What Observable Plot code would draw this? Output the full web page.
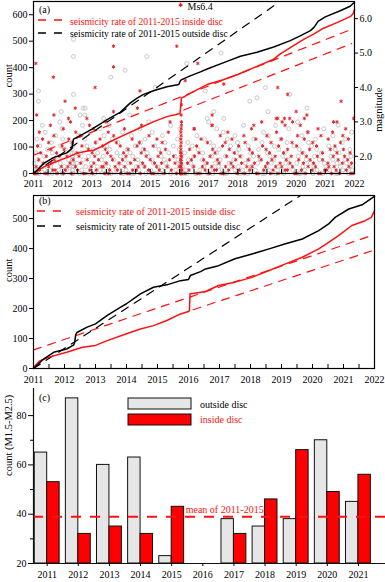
<!DOCTYPE html>
<html>
<head>
<meta charset="utf-8">
<script src="https://cdn.jsdelivr.net/npm/d3@7"></script>
<script src="https://cdn.jsdelivr.net/npm/@observablehq/plot@0.6"></script>
<style>
  body { margin: 0; background: #fff; }
  #chart { position: relative; width: 385px; height: 582px; overflow: hidden; background: #fff; }
  #chart svg { position: absolute; left: 0; }
</style>
</head>
<body>
<div id="chart"></div>
<script>
// ---------------- DATA ----------------
const yearTicks = [2011, 2012, 2013, 2014, 2015, 2016, 2017, 2018, 2019, 2020, 2021, 2022];
const halfYearTicks = [2011.5, 2012.5, 2013.5, 2014.5, 2015.5, 2016.5, 2017.5, 2018.5, 2019.5, 2020.5, 2021.5];
const countTicksA = [0, 100, 200, 300, 400, 500, 600];
const countTicksB = [0, 100, 200, 300, 400, 500];
const magTicks = [2, 3, 4, 5, 6];

// panel (a): cumulative counts [year, count]
const aOutsideCum = [[2011.00,0],[2011.17,18],[2011.34,37],[2011.68,60],[2012.14,78],[2012.32,95],[2012.34,112],[2012.37,130],[2012.71,150],[2013.00,168],[2013.28,187],[2013.51,203],[2013.75,218],[2013.97,231],[2014.31,266],[2014.55,285],[2014.77,299],[2015.11,313],[2015.57,328],[2015.98,336],[2016.02,348],[2016.06,354],[2016.37,369],[2016.72,384],[2016.95,395],[2017.52,419],[2018.09,443],[2018.66,458],[2019.23,478],[2019.80,502],[2020.14,520],[2020.49,540],[2020.62,553],[2020.75,575],[2021.00,592],[2021.57,618],[2021.85,632],[2022.00,647]];
const aInsideCum = [[2011.00,3],[2011.20,15],[2011.34,24],[2011.60,37],[2011.90,50],[2012.20,63],[2012.48,76],[2012.80,84],[2013.06,88],[2013.30,100],[2013.60,119],[2014.10,145],[2014.60,170],[2015.12,196],[2015.57,215],[2015.85,222],[2016.02,227],[2016.05,260],[2016.07,285],[2016.20,292],[2016.38,304],[2016.95,336],[2017.50,354],[2018.00,374],[2018.66,405],[2019.23,432],[2019.46,452],[2019.80,476],[2020.26,507],[2020.60,527],[2020.94,549],[2021.40,570],[2021.87,594],[2021.95,604],[2022.00,619]];
const aOutsideRate = [[2011.0,0],[2019.42,648]];
const aInsideRateHigh = [[2011.0,69],[2021.9,545]];
const aInsideRateLow = [[2016.15,240],[2021.9,491]];

// panel (a): magnitudes, rows of [magnitude, [years after 2011]]
const insideRows = [
  [1.5,[0.03,0.12,0.40,0.47,0.81,1.02,1.30,1.71,1.77,2.02,2.44,2.58,2.99,3.21,3.28,3.66,4.05,4.12,4.47,4.90,5.04,5.05,5.07,5.19,5.61,5.70,6.02,6.43,6.51,6.98,7.22,7.64,7.70,8.13,8.38,8.95,9.02,9.31,9.77,9.84,10.21,10.49,10.88,10.95]],
  [1.6,[0.21,0.66,0.74,1.09,1.51,1.93,2.15,2.61,2.87,3.40,3.52,3.94,4.31,4.72,5.04,5.06,5.08,5.33,5.88,6.20,6.27,6.69,7.05,7.41,7.89,8.21,8.62,8.70,9.18,9.55,9.98,10.05,10.37,10.72]],
  [1.7,[0.09,0.52,0.95,1.18,1.44,1.98,2.34,2.39,2.80,3.13,3.59,3.81,4.22,4.58,4.99,5.04,5.06,5.49,5.79,6.11,6.58,6.84,7.31,7.49,7.95,8.30,8.51,8.88,9.41,9.66,10.12,10.30,10.81]],
  [1.8,[0.33,0.60,1.25,1.62,2.07,2.49,2.93,3.33,3.74,4.15,4.39,4.85,5.05,5.07,5.28,5.95,6.36,6.77,7.13,7.57,8.02,8.45,8.79,9.25,9.60,10.09,10.58,10.90]],
  [1.9,[0.18,0.71,1.36,1.84,2.23,2.71,3.05,3.47,4.00,4.66,5.04,5.06,5.41,5.83,6.30,6.93,7.36,7.80,8.17,8.66,9.09,9.48,9.91,10.44,10.77]],
  [2.0,[0.44,0.90,1.15,1.56,2.10,2.65,3.17,3.86,4.27,4.80,5.05,5.08,5.52,6.05,6.62,7.08,7.72,8.28,8.83,9.35,9.73,10.27,10.66]],
  [2.1,[0.25,0.79,1.49,2.01,2.53,3.09,3.69,4.36,5.04,5.06,5.67,6.22,6.88,7.50,8.09,8.57,9.21,9.90,10.40,10.85]],
  [2.2,[0.60,1.05,1.88,2.46,3.24,3.80,4.52,5.05,5.35,6.14,6.71,7.40,7.97,8.71,9.46,10.17,10.62]],
  [2.3,[0.14,0.98,1.66,2.37,2.97,3.55,4.10,5.05,5.59,6.48,7.03,7.85,8.40,9.02,9.70,10.33]],
  [2.4,[0.52,1.33,2.12,2.84,3.63,4.41,5.06,5.96,6.57,7.25,8.14,8.86,9.57,10.52]],
  [2.5,[0.31,1.21,2.28,3.38,4.23,5.05,5.74,6.80,7.62,8.49,9.28,10.10,10.79]],
  [2.6,[0.70,1.60,2.75,3.96,5.06,6.40,7.21,8.00,9.05,9.85,10.60]],
  [2.7,[0.20,1.45,2.56,4.62,5.05,6.66,8.33,9.40,10.25]],
  [2.8,[1.02,2.05,3.12,5.06,5.50,7.47,9.75,10.70]],
  [2.9,[0.58,1.92,3.70,5.07,6.12,8.62,9.14]],
  [3.0,[1.27,2.48,4.68,5.07,7.82,8.88,10.28]]
];
const insideLarge = [[2011.08,4.7],[2011.11,3.2],[2011.68,4.3],[2011.70,3.2],[2012.08,3.6],[2012.20,3.1],[2012.43,3.4],[2012.83,3.1],[2013.11,4.0],[2013.74,5.2],[2013.74,4.6],[2013.74,3.3],[2014.56,3.4],[2014.65,3.9],[2015.91,5.2],[2016.06,3.2],[2016.07,3.5],[2016.20,4.2],[2016.51,2.8],[2016.63,4.7],[2017.12,3.2],[2017.12,2.9],[2017.52,4.1],[2018.55,2.9],[2019.32,3.1],[2019.37,4.0],[2019.37,3.1],[2019.52,3.0],[2019.60,3.1],[2019.71,3.8],[2019.78,3.1],[2020.00,3.3],[2020.28,3.1],[2020.37,3.2],[2021.40,3.0],[2021.54,3.6],[2021.97,3.1]];
const mainshock = [{t: 2016.04, m: 6.4, label: "Ms6.4"}];

const outsideRows = [
  [1.5,[0.06,0.19,0.52,0.64,0.99,1.32,1.34,1.36,1.58,1.90,2.10,2.52,2.66,3.07,3.36,3.44,3.85,4.19,4.33,4.70,5.13,5.25,5.55,5.97,6.14,6.55,6.62,7.08,7.33,7.85,7.92,8.30,8.58,9.10,9.15,9.58,9.91,10.35,10.42,10.80]],
  [1.6,[0.10,0.38,0.86,1.14,1.33,1.35,1.66,2.28,2.41,2.83,3.17,3.62,4.02,4.40,4.88,5.22,5.70,6.03,6.47,6.90,7.17,7.60,8.05,8.48,8.89,9.29,9.72,10.15,10.60,10.93]],
  [1.7,[0.27,0.59,1.05,1.33,1.37,1.79,2.19,2.57,3.00,3.53,3.79,4.26,4.60,5.10,5.47,5.84,6.34,6.79,7.02,7.46,7.99,8.36,8.78,9.23,9.61,10.04,10.51,10.85]],
  [1.8,[0.02,0.45,0.92,1.32,1.35,1.49,1.99,2.47,2.92,3.26,3.70,4.11,4.53,5.02,5.39,5.91,6.22,6.70,7.26,7.68,8.15,8.64,9.02,9.49,9.97,10.40,10.72]],
  [1.9,[0.15,0.71,1.20,1.34,1.70,2.33,2.76,3.12,3.58,4.07,4.48,4.95,5.31,5.78,6.40,6.86,7.38,7.77,8.22,8.71,9.35,9.80,10.26,10.67]],
  [2.0,[0.35,0.81,1.33,1.36,1.88,2.39,2.98,3.40,3.93,4.37,4.85,5.50,6.10,6.58,7.12,7.54,8.10,8.54,9.07,9.63,10.20,10.88]],
  [2.1,[0.08,0.64,1.28,1.34,1.62,2.20,2.86,3.31,3.89,4.64,5.18,5.80,6.27,6.95,7.44,8.02,8.62,9.24,9.86,10.47]],
  [2.2,[0.48,1.09,1.33,2.05,2.62,3.21,3.75,4.30,5.00,5.64,6.36,7.04,7.71,8.40,9.11,9.70,10.34,10.84]],
  [2.3,[0.22,0.93,1.35,1.83,2.52,3.49,4.16,4.79,5.44,6.18,6.75,7.36,8.25,8.93,9.53,10.12]],
  [2.4,[0.61,1.32,2.15,2.89,3.67,4.50,5.29,6.05,6.99,7.83,8.69,9.42,10.58]],
  [2.5,[0.12,1.00,1.76,2.71,3.82,4.94,5.86,6.64,7.55,8.48,9.66,10.70]],
  [2.6,[0.76,1.55,2.42,3.36,4.42,5.60,6.90,8.05,9.20,10.26]],
  [2.7,[0.40,1.93,3.05,4.07,6.50,7.88,9.40,10.90]],
  [2.8,[0.98,2.28,3.64,5.02,6.28,8.75,9.95]],
  [2.9,[0.30,1.68,2.60,4.70,7.20,8.30,10.44]],
  [3.0,[0.90,3.95,6.00,9.05]]
];
const outsideLarge = [[2011.17,3.9],[2011.17,3.6],[2011.95,3.3],[2012.37,5.4],[2012.37,4.9],[2012.37,3.8],[2012.60,3.2],[2012.70,3.4],[2012.76,3.2],[2012.77,3.4],[2013.40,3.1],[2013.65,4.3],[2014.14,4.5],[2014.30,3.2],[2014.88,4.9],[2015.17,4.0],[2016.25,4.7],[2016.89,3.9],[2016.95,3.1],[2017.18,3.3],[2017.43,5.0],[2017.52,3.1],[2018.41,3.6],[2018.66,3.7],[2018.95,4.0],[2019.03,3.3],[2019.78,3.8],[2020.37,3.4]];

// panel (b): cumulative counts [year, count]
const bOutsideCum = [[2011.00,0],[2011.15,14],[2011.30,30],[2011.65,54],[2012.07,65],[2012.30,79],[2012.33,88],[2012.36,112],[2012.40,120],[2012.73,138],[2013.00,149],[2013.38,177],[2013.80,204],[2014.00,216],[2014.45,249],[2014.87,271],[2015.30,279],[2015.74,293],[2016.00,297],[2016.06,310],[2016.39,323],[2016.55,332],[2016.97,343],[2017.50,366],[2018.05,382],[2018.60,399],[2019.13,416],[2019.67,432],[2020.20,460],[2020.52,482],[2020.73,504],[2021.17,532],[2021.60,546],[2022.00,574]];
const bInsideCum = [[2011.00,4],[2011.20,25],[2011.50,38],[2012.07,54],[2012.58,71],[2013.00,77],[2013.38,93],[2014.00,116],[2014.45,132],[2014.87,143],[2015.30,160],[2015.74,182],[2016.00,190],[2016.03,193],[2016.05,249],[2016.20,251],[2016.55,257],[2016.97,277],[2017.50,288],[2018.05,304],[2018.60,327],[2019.13,349],[2019.67,371],[2020.20,399],[2020.52,421],[2020.84,443],[2021.27,477],[2021.70,493],[2021.90,504],[2022.00,527]];
const bOutsideRate = [[2011.0,0],[2019.61,577]];
const bInsideRateHigh = [[2011.0,62],[2021.9,443]];
const bInsideRateLow = [[2016.15,196],[2021.9,392]];

// panel (c): yearly counts M1.5-M2.5
const barYears = [2011, 2012, 2013, 2014, 2015, 2017, 2018, 2019, 2020, 2021];
const outsideCounts = [65, 87, 60, 63, 23, 38, 35, 38, 70, 45];
const insideCounts = [53, 32, 35, 32, 43, 32, 46, 66, 49, 56];
const barTickYears = [2011, 2012, 2013, 2014, 2015, 2016, 2017, 2018, 2019, 2020, 2021];
const meanInside = [39];

// ---------------- BUILD ----------------
const FONT = '"Liberation Serif", "Times New Roman", serif';
const RED = "#ff1010";
const W = 385;
const chart = document.getElementById("chart");

const toPts = (rows) => rows.flatMap(([m, ts]) => ts.map(t => ({t: 2011 + t, m})));
const insidePts = toPts(insideRows).concat(insideLarge.map(([t, m]) => ({t, m})));
const outsidePts = toPts(outsideRows).concat(outsideLarge.map(([t, m]) => ({t, m})));
const xy = {x: d => d[0], y: d => d[1]};

function place(svg, top) {
  svg.style.top = top + "px";
  chart.appendChild(svg);
  return svg;
}
function legendLine(svg, x1, x2, y, color) {
  d3.select(svg).append("line").attr("x1", x1).attr("x2", x2).attr("y1", y).attr("y2", y)
    .attr("stroke", color).attr("stroke-width", 1.3).attr("stroke-dasharray", "8,8");
}
function label(svg, x, y, str, color, size) {
  d3.select(svg).append("text").attr("x", x).attr("y", y).attr("fill", color)
    .attr("text-anchor", "start")
    .attr("font-size", size).attr("font-family", FONT).attr("dominant-baseline", "central").text(str);
}
function legendBox(svg, x, y, w, h, fill) {
  d3.select(svg).append("rect").attr("x", x).attr("y", y).attr("width", w).attr("height", h)
    .attr("fill", fill).attr("stroke", "#111").attr("stroke-width", 1);
}
const baseStyle = {fontFamily: FONT, fontSize: "10px", background: "transparent", overflow: "visible"};

// ----- panel (a): scatter layer (magnitude, right axis)
const aDims = {width: W, height: 190, marginLeft: 33, marginRight: 31, marginTop: 1, marginBottom: 17};
const aScatter = Plot.plot({
  ...aDims, style: baseStyle,
  x: {domain: [2011, 2022], axis: null},
  y: {domain: [1.5, 6.5]},
  marks: [
    Plot.axisY({anchor: "right", ticks: magTicks, tickFormat: d3.format(".1f"), tickSize: 3, tickPadding: 2, label: null}),
    Plot.dot(outsidePts, {x: "t", y: "m", r: 2, stroke: "#c2c2c2", strokeWidth: 0.9}),
    Plot.dot(insidePts, {x: "t", y: "m", r: 1.7, symbol: "asterisk", stroke: "#e3262c", strokeWidth: 1}),
    Plot.dot(mainshock, {x: "t", y: "m", r: 2, symbol: "asterisk", stroke: "#e3262c", strokeWidth: 1.1}),
    Plot.text(mainshock, {x: "t", y: "m", text: "label", dx: 7, dy: 2, textAnchor: "start", fill: "black", fontSize: 10}),
    Plot.text(["magnitude"], {text: d => d, frameAnchor: "right", dx: 24, rotate: -90, fill: "black", fontSize: 10.5})
  ]
});
place(aScatter, 0);

// ----- panel (a): lines layer (count, left axis)
const aLines = Plot.plot({
  ...aDims, style: baseStyle,
  x: {domain: [2011, 2022]},
  y: {domain: [0, 650]},
  marks: [
    Plot.line(aInsideRateHigh, {...xy, stroke: RED, strokeWidth: 1.2, strokeDasharray: "8,7"}),
    Plot.line(aInsideRateLow, {...xy, stroke: RED, strokeWidth: 1.2, strokeDasharray: "8,7"}),
    Plot.line(aOutsideRate, {...xy, stroke: "black", strokeWidth: 1.2, strokeDasharray: "8,7"}),
    Plot.line(aInsideCum, {...xy, stroke: RED, strokeWidth: 1.5}),
    Plot.line(aOutsideCum, {...xy, stroke: "black", strokeWidth: 1.5}),
    Plot.frame({stroke: "black", strokeWidth: 1.2}),
    Plot.axisY({ticks: countTicksA, tickSize: 4, tickPadding: 2, label: null}),
    Plot.axisX({ticks: halfYearTicks.concat(yearTicks), tickSize: -4, tickFormat: () => "", label: null}),
    Plot.axisX({ticks: yearTicks, tickSize: 0, tickPadding: 6, tickFormat: d => String(d), label: null}),
    Plot.text(["count"], {text: d => d, frameAnchor: "left", dx: -25, rotate: -90, fill: "black", fontSize: 10.5})
  ]
});
place(aLines, 0);
label(aLines, 39, 9, "(a)", "black", 10);
legendLine(aLines, 38, 62, 20, RED);
label(aLines, 70, 21, "seismicity rate of 2011-2015 inside disc", RED, 9.6);
legendLine(aLines, 38, 62, 33, "black");
label(aLines, 70, 33.5, "seismicity rate of 2011-2015 outside disc", "black", 9.6);

// ----- panel (b)
const bPlot = Plot.plot({
  width: W, height: 196, marginLeft: 33, marginRight: 11, marginTop: 5, marginBottom: 18,
  style: baseStyle,
  x: {domain: [2011, 2022]},
  y: {domain: [0, 577]},
  marks: [
    Plot.line(bInsideRateHigh, {...xy, stroke: RED, strokeWidth: 1.2, strokeDasharray: "8,7"}),
    Plot.line(bInsideRateLow, {...xy, stroke: RED, strokeWidth: 1.2, strokeDasharray: "8,7"}),
    Plot.line(bOutsideRate, {...xy, stroke: "black", strokeWidth: 1.2, strokeDasharray: "8,7"}),
    Plot.line(bInsideCum, {...xy, stroke: RED, strokeWidth: 1.5}),
    Plot.line(bOutsideCum, {...xy, stroke: "black", strokeWidth: 1.5}),
    Plot.frame({stroke: "black", strokeWidth: 1.2}),
    Plot.axisY({ticks: countTicksB, tickSize: 4, tickPadding: 2, label: null}),
    Plot.axisX({ticks: halfYearTicks.concat(yearTicks), tickSize: -4, tickFormat: () => "", label: null}),
    Plot.axisX({ticks: yearTicks, tickSize: 0, tickPadding: 7, tickFormat: d => String(d), label: null}),
    Plot.text(["count"], {text: d => d, frameAnchor: "left", dx: -25, rotate: -90, fill: "black", fontSize: 10.5})
  ]
});
place(bPlot, 190);
label(bPlot, 39, 10.5, "(b)", "black", 10);
legendLine(bPlot, 37, 66, 21, RED);
label(bPlot, 76, 21, "seismicity rate of 2011-2015 inside disc", RED, 10);
legendLine(bPlot, 37, 66, 36, "black");
label(bPlot, 76, 36, "seismicity rate of 2011-2015 outside disc", "black", 10);

// ----- panel (c)
const bars = barYears.map((year, i) => ({year, outside: outsideCounts[i], inside: insideCounts[i]}));
const cX = [2010.56, 2021.87];
const cPlot = Plot.plot({
  width: W, height: 196, marginLeft: 33, marginRight: 0, marginTop: 2, marginBottom: 19,
  style: baseStyle,
  x: {domain: cX},
  y: {domain: [20, 91]},
  marks: [
    Plot.rectY(bars, {x1: d => d.year - 0.4, x2: d => d.year, y1: 20, y2: "outside", fill: "#e6e6e6", stroke: "#111", strokeWidth: 1}),
    Plot.rectY(bars, {x1: d => d.year, x2: d => d.year + 0.4, y1: 20, y2: "inside", fill: "#ff0000", stroke: "#111", strokeWidth: 1}),
    Plot.ruleY(meanInside, {stroke: RED, strokeWidth: 2, strokeDasharray: "10,9"}),
    Plot.text(["mean of 2011-2015"], {text: d => d, x: 2015.45, y: meanInside[0], dy: -7, textAnchor: "start", fill: RED, fontSize: 10}),
    Plot.ruleY([20], {stroke: "#111", strokeWidth: 1.2}),
    Plot.ruleX([cX[0]], {stroke: "#111", strokeWidth: 1.2}),
    Plot.axisY({ticks: [20, 40, 60, 80], tickSize: 5, tickPadding: 2, label: null}),
    Plot.axisY({ticks: [30, 50, 70], tickSize: 3, tickFormat: () => "", label: null}),
    Plot.axisX({ticks: barTickYears, tickSize: 3, tickPadding: 4, tickFormat: d => String(d), label: null}),
    Plot.text(["count (M1.5-M2.5)"], {text: d => d, frameAnchor: "left", dx: -25, rotate: -90, fill: "black", fontSize: 10.5})
  ]
});
place(cPlot, 386);
label(cPlot, 39, 11, "(c)", "black", 10);
legendBox(cPlot, 128, 12, 63, 11, "#e6e6e6");
legendBox(cPlot, 128, 28, 63, 11, "#ff0000");
label(cPlot, 200, 18, "outside disc", "black", 10);
label(cPlot, 200, 33, "inside disc", RED, 10);
</script>
</body>
</html>
